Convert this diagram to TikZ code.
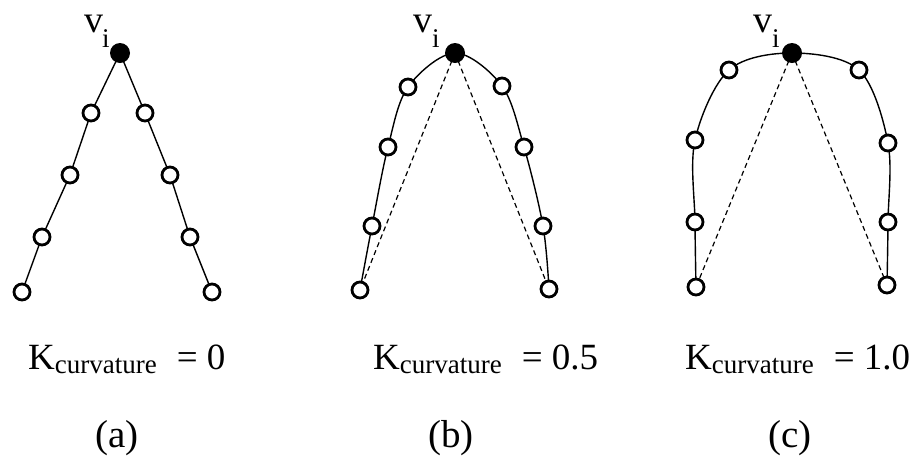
\documentclass[tikz,border=0pt]{standalone}
\usepackage{fontspec}
\setmainfont{Liberation Serif}
\usetikzlibrary{backgrounds}
\tikzset{
  x=1pt, y=-1pt,
  opencirc/.style={circle, draw=black, fill=white, line width=2.8pt, minimum size=16pt, inner sep=0pt},
  vertex/.style={circle, fill=black, minimum size=20pt, inner sep=0pt},
  curve/.style={line width=1.4pt},
  chord/.style={line width=1.2pt, dash pattern=on 5pt off 3.5pt},
  lbl/.style={inner sep=0pt, font=\fontsize{37}{40}\selectfont},
  vlbl/.style={inner sep=0pt, anchor=base west, font=\fontsize{38}{40}\selectfont},
  ilbl/.style={inner sep=0pt, anchor=base west, font=\fontsize{27}{29}\selectfont},
  caplbl/.style={inner sep=0pt, anchor=base, font=\fontsize{39}{42}\selectfont}
}
\newcommand{\ksub}[1]{K\raisebox{-4pt}{\fontsize{27}{30}\selectfont curvature}\hspace{20pt}= #1}
\begin{document}
\begin{tikzpicture}
\useasboundingbox (0,0) rectangle (913,456);
% ---------- panel (a)
\node[vertex] (av) at (120,53) {};
\node[opencirc] (al1) at (91,113) {};
\node[opencirc] (al2) at (70,175) {};
\node[opencirc] (al3) at (42,237) {};
\node[opencirc] (al4) at (22,292) {};
\node[opencirc] (ar1) at (145,113) {};
\node[opencirc] (ar2) at (170,175) {};
\node[opencirc] (ar3) at (190,237) {};
\node[opencirc] (ar4) at (212,292) {};
\begin{scope}[on background layer]
\draw[curve] (al4.center) -- (al3.center) -- (al2.center) -- (al1.center) -- (av.center) -- (ar1.center) -- (ar2.center) -- (ar3.center) -- (ar4.center);
\end{scope}
\node[vlbl] (avv) at (84,32) {v};
\node[ilbl] (avi) at (102,47) {i};
% ---------- panel (b)
\node[vertex] (bv) at (455,53) {};
\node[opencirc] (bl1) at (408,87) {};
\node[opencirc] (bl2) at (388,147) {};
\node[opencirc] (bl3) at (372,226) {};
\node[opencirc] (bl4) at (360,290) {};
\node[opencirc] (br1) at (502,86) {};
\node[opencirc] (br2) at (524,147) {};
\node[opencirc] (br3) at (543,226) {};
\node[opencirc] (br4) at (549,289) {};
\begin{scope}[on background layer]
\draw[curve] plot[smooth, tension=0.55] coordinates {(bl4.center) (bl3.center) (bl2.center) (bl1.center) (bv.center) (br1.center) (br2.center) (br3.center) (br4.center)};
\draw[chord] (bv.center) -- (bl4.center);
\draw[chord] (bv.center) -- (br4.center);
\end{scope}
\node[vlbl] (bvv) at (413,32) {v};
\node[ilbl] (bvi) at (432,47) {i};
% ---------- panel (c)
\node[vertex] (cv) at (792,53) {};
\node[opencirc] (cl1) at (729,70) {};
\node[opencirc] (cl2) at (695,140) {};
\node[opencirc] (cl3) at (695,222) {};
\node[opencirc] (cl4) at (696,287) {};
\node[opencirc] (cr1) at (859,70) {};
\node[opencirc] (cr2) at (888,143) {};
\node[opencirc] (cr3) at (888,222) {};
\node[opencirc] (cr4) at (887,285) {};
\begin{scope}[on background layer]
\draw[curve] plot[smooth, tension=0.55] coordinates {(cl4.center) (cl3.center) (cl2.center) (cl1.center) (cv.center) (cr1.center) (cr2.center) (cr3.center) (cr4.center)};
\draw[chord] (cv.center) -- (cl4.center);
\draw[chord] (cv.center) -- (cr4.center);
\end{scope}
\node[vlbl] (cvv) at (753,32) {v};
\node[ilbl] (cvi) at (772,47) {i};
% ---------- labels
\node[lbl, anchor=base west] (ka) at (28,369) {\ksub{0}};
\node[lbl, anchor=base west] (kb) at (373,369) {\ksub{0.5}};
\node[lbl, anchor=base west] (kc) at (685,369) {\ksub{1.0}};
\node[caplbl] (capa) at (117,447) {(a)};
\node[caplbl] (capb) at (451,447) {(b)};
\node[caplbl] (capc) at (790,447) {(c)};
\end{tikzpicture}
\end{document}
